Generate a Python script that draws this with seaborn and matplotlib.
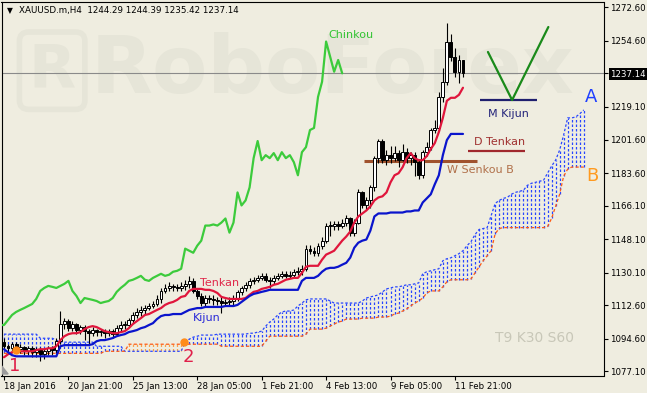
import numpy as np
import pandas as pd
import matplotlib
matplotlib.use("Agg")
import matplotlib.pyplot as plt
import seaborn as sns

# ---------------- data (XAUUSD H4) ----------------
first_open = 1093.0
close = [1090.6, 1089.5, 1091.7, 1089.0, 1090.1, 1087.9, 1089.5, 1087.4, 1089.0, 1086.3,
         1087.9, 1089.5, 1088.5, 1093.3, 1102.5, 1104.1, 1100.4, 1102.5, 1099.3, 1100.9,
         1098.7, 1097.6, 1099.3, 1098.2, 1098.7, 1097.6, 1098.7, 1097.1, 1100.4, 1102.0,
         1102.0, 1104.7, 1107.4, 1109.0, 1110.1, 1111.1, 1112.2, 1113.3, 1116.0, 1120.3,
         1121.9, 1123.0, 1122.5, 1121.9, 1123.0, 1124.1, 1125.7, 1120.3, 1117.6, 1113.8,
         1116.5, 1116.0, 1115.5, 1114.9, 1113.8, 1114.4, 1114.9, 1116.5, 1119.8, 1121.9,
         1123.6, 1125.7, 1126.3, 1127.3, 1128.4, 1126.3, 1125.7, 1127.3, 1128.4, 1129.5,
         1128.4, 1129.0, 1130.6, 1131.1, 1132.2, 1143.0, 1141.9, 1140.8, 1144.6, 1147.3,
         1155.4, 1155.4, 1156.0, 1155.4, 1157.0, 1159.2, 1151.6, 1157.0, 1173.2, 1166.2,
         1168.9, 1175.9, 1191.6, 1200.8, 1190.5, 1193.2, 1191.6, 1194.3, 1190.5, 1194.8,
         1191.6, 1193.2, 1189.4, 1182.4, 1194.8, 1197.5, 1206.7, 1207.8, 1224.5, 1232.6,
         1254.2, 1246.1, 1238.0, 1244.29, 1237.14]
high = [1095, 1092, 1093, 1093, 1092, 1091, 1091, 1091, 1090, 1090,
        1089, 1091, 1091, 1095, 1109.5, 1106, 1105, 1104, 1103, 1102,
        1102, 1100, 1101, 1100, 1100, 1100, 1100, 1100, 1102, 1104,
        1104, 1106, 1109, 1111, 1112, 1113, 1114, 1115, 1118, 1122,
        1124, 1125, 1124, 1124, 1125, 1126, 1128.4, 1127, 1122, 1119,
        1118, 1118, 1118, 1117, 1117, 1116, 1117, 1118, 1121, 1123,
        1125, 1127, 1128, 1129, 1130, 1130, 1128, 1129, 1130, 1131,
        1131, 1131, 1132, 1133, 1134, 1145, 1145, 1144, 1146, 1149,
        1157, 1158, 1158, 1158, 1159, 1161, 1160, 1159, 1175, 1174,
        1171, 1177, 1193, 1202, 1202, 1196, 1198, 1198, 1196, 1199,
        1197, 1195, 1195, 1191, 1196, 1200, 1208, 1212, 1227, 1240,
        1264, 1258, 1251, 1247, 1244.39]
low = [1089, 1087, 1088, 1087, 1087, 1086, 1086, 1085, 1085, 1082.5,
       1084, 1086, 1086, 1087, 1092, 1100, 1099, 1099, 1097, 1097,
       1094, 1092, 1096, 1096, 1096, 1095, 1096, 1095, 1096, 1099,
       1100, 1101, 1103, 1106, 1107, 1108, 1110, 1111, 1112, 1114,
       1119, 1120, 1120, 1120, 1120, 1121, 1122, 1119, 1116, 1112,
       1112, 1114, 1113, 1113, 1108.4, 1112, 1113, 1113, 1115, 1118,
       1120, 1122, 1124, 1125, 1126, 1125, 1122, 1124, 1126, 1127,
       1127, 1127, 1128, 1129, 1129, 1131, 1140, 1139, 1139, 1143,
       1146, 1150, 1153, 1153, 1154, 1155, 1150, 1150, 1156, 1165,
       1164, 1165, 1174, 1189, 1189, 1188, 1189, 1190, 1187, 1190,
       1189, 1188, 1182, 1180.5, 1181, 1193, 1196, 1205, 1206, 1222,
       1231, 1244, 1235, 1232, 1235.42]
tenkan = [1084.7, 1086.3, 1087.4, 1087.9, 1087.9, 1087.9, 1087.9, 1087.9, 1088.5, 1089.0,
          1089.0, 1089.5, 1089.5, 1090.6, 1093.9, 1096.0, 1097.1, 1097.6, 1097.6, 1098.2,
          1099.8, 1100.9, 1101.4, 1100.9, 1099.8, 1098.7, 1098.2, 1097.6, 1097.6, 1098.2,
          1098.7, 1100.3, 1102.5, 1104.1, 1105.7, 1107.4, 1107.9, 1109.0, 1110.1, 1111.1,
          1112.8, 1113.8, 1114.4, 1115.5, 1117.1, 1117.6, 1120.3, 1121.4, 1121.4, 1121.4,
          1120.9, 1120.9, 1120.3, 1119.2, 1117.1, 1116.5, 1116.0, 1116.0, 1116.0, 1116.0,
          1116.5, 1118.2, 1119.8, 1120.3, 1121.4, 1121.9, 1122.5, 1123.6, 1124.1, 1125.2,
          1126.3, 1126.8, 1127.3, 1127.3, 1130.0, 1133.3, 1133.8, 1133.8, 1133.8, 1137.1,
          1139.8, 1140.8, 1141.9, 1144.6, 1147.3, 1149.5, 1152.2, 1157.0, 1160.3, 1161.9,
          1163.5, 1165.7, 1168.9, 1170.5, 1171.1, 1173.2, 1178.6, 1182.4, 1183.5, 1186.7,
          1191.6, 1194.3, 1191.6, 1190.5, 1190.5, 1192.7, 1196.5, 1199.7, 1205.6, 1213.2,
          1222.4, 1224.0, 1224.0, 1225.6, 1229.4]
kijun = [1089.0, 1087.4, 1085.8, 1085.2, 1085.2, 1085.2, 1085.2, 1085.2, 1085.2, 1085.2,
         1085.2, 1085.2, 1085.2, 1085.2, 1090.6, 1091.2, 1091.2, 1091.2, 1091.2, 1091.2,
         1091.2, 1091.2, 1091.7, 1093.3, 1093.9, 1093.9, 1094.4, 1095.0, 1096.0, 1096.6,
         1097.1, 1098.2, 1098.7, 1099.3, 1100.3, 1100.9, 1102.0, 1103.0, 1105.2, 1106.8,
         1107.4, 1107.4, 1107.9, 1107.9, 1107.9, 1109.0, 1110.1, 1110.6, 1111.1, 1111.1,
         1111.7, 1111.7, 1111.7, 1111.7, 1111.7, 1112.2, 1112.2, 1112.2, 1112.8, 1114.4,
         1116.0, 1117.6, 1118.7, 1119.2, 1119.8, 1120.3, 1120.9, 1120.9, 1120.9, 1120.9,
         1120.9, 1120.9, 1120.9, 1120.9, 1125.7, 1127.3, 1127.3, 1127.3, 1128.4, 1130.6,
         1132.2, 1132.7, 1132.7, 1133.3, 1134.4, 1135.4, 1138.2, 1143.5, 1146.2, 1147.3,
         1147.9, 1152.7, 1160.3, 1161.9, 1161.9, 1161.9, 1162.4, 1162.4, 1162.4, 1162.4,
         1163.0, 1163.0, 1163.5, 1163.5, 1167.8, 1170.0, 1172.2, 1177.6, 1182.4, 1193.2,
         1201.3, 1204.6, 1204.6, 1204.6, 1204.6]
senkou_a = [1097.1, 1097.1, 1097.1, 1097.1, 1097.1, 1097.1, 1097.1, 1097.1, 1097.1, 1094.9,
            1094.9, 1094.9, 1094.9, 1093.9, 1092.8, 1092.8, 1092.8, 1092.8, 1092.8, 1092.8,
            1092.8, 1092.8, 1092.8, 1090.6, 1090.6, 1090.6, 1090.6, 1090.6, 1090.6, 1090.6,
            1087.9, 1087.9, 1087.9, 1087.9, 1087.9, 1087.9, 1087.9, 1087.9, 1087.9, 1087.9,
            1087.9, 1087.9, 1087.9, 1087.9, 1087.9, 1092.8, 1094.4, 1095.5, 1096.0, 1096.6,
            1096.6, 1096.6, 1096.6, 1097.1, 1097.1, 1097.1, 1097.1, 1097.1, 1097.1, 1097.1,
            1097.1, 1097.6, 1097.6, 1098.2, 1098.7, 1101.4, 1103.6, 1105.2, 1107.4, 1109.0,
            1109.5, 1109.5, 1110.1, 1112.2, 1113.8, 1115.5, 1116.0, 1116.0, 1116.0, 1116.0,
            1116.0, 1114.9, 1113.8, 1113.8, 1113.8, 1113.8, 1113.8, 1113.8, 1113.8, 1114.9,
            1116.5, 1117.1, 1117.6, 1118.2, 1119.8, 1121.4, 1121.9, 1122.5, 1122.5, 1123.0,
            1123.6, 1123.6, 1124.1, 1124.6, 1129.5, 1130.6, 1131.1, 1131.7, 1132.2, 1136.5,
            1137.6, 1138.1, 1139.2, 1140.3, 1141.9, 1144.6, 1146.8, 1150.6, 1153.3, 1153.8,
            1154.3, 1160.8, 1167.3, 1168.9, 1170.0, 1170.5, 1172.2, 1173.2, 1173.8, 1174.3,
            1177.0, 1178.1, 1178.6, 1179.2, 1179.7, 1183.5, 1187.3, 1190.5, 1195.9, 1204.0,
            1213.2, 1213.2, 1213.7, 1215.4, 1217.5]
senkou_b = [1086.8, 1086.8, 1086.8, 1086.8, 1086.8, 1086.8, 1086.8, 1086.8, 1086.8, 1086.8,
            1086.8, 1086.8, 1086.8, 1086.8, 1086.8, 1086.8, 1086.8, 1086.8, 1086.8, 1086.8,
            1086.8, 1086.8, 1086.8, 1086.8, 1086.8, 1087.9, 1087.9, 1087.9, 1087.9, 1087.9,
            1087.9, 1091.7, 1091.7, 1091.7, 1091.7, 1091.7, 1091.7, 1091.7, 1091.7, 1091.7,
            1091.7, 1091.7, 1091.7, 1091.7, 1091.7, 1091.7, 1091.7, 1091.7, 1091.7, 1091.7,
            1091.7, 1091.7, 1091.7, 1091.7, 1090.6, 1090.6, 1090.6, 1090.6, 1090.6, 1090.6,
            1090.6, 1090.6, 1090.6, 1090.6, 1090.6, 1093.3, 1096.0, 1096.0, 1096.0, 1096.0,
            1096.0, 1096.0, 1096.0, 1096.0, 1096.0, 1097.1, 1099.8, 1099.8, 1099.8, 1099.8,
            1100.3, 1101.4, 1102.5, 1103.6, 1104.1, 1105.2, 1105.2, 1105.2, 1105.2, 1105.7,
            1105.7, 1105.7, 1105.7, 1106.3, 1106.3, 1106.3, 1106.8, 1107.9, 1108.4, 1109.5,
            1110.6, 1112.2, 1113.8, 1114.9, 1116.5, 1119.2, 1120.3, 1120.3, 1120.3, 1122.5,
            1125.2, 1126.3, 1126.3, 1126.3, 1126.3, 1126.3, 1126.8, 1130.0, 1133.3, 1136.5,
            1139.2, 1141.9, 1151.1, 1153.8, 1154.3, 1154.3, 1154.3, 1154.3, 1154.3, 1154.3,
            1154.3, 1154.3, 1154.3, 1154.3, 1154.3, 1154.9, 1159.2, 1165.7, 1172.2, 1181.9,
            1185.7, 1186.8, 1186.8, 1186.8, 1186.8]
kijun_period = 30
last_price = 1237.14
title_text = "XAUUSD.m,H4  1244.29 1244.39 1235.42 1237.14"
y_ticks = [1272.60, 1254.60, 1237.14, 1219.10, 1201.60, 1183.60, 1166.10,
           1148.10, 1130.10, 1112.60, 1094.60, 1077.10]
x_tick_bars = [0, 16, 32, 48, 64, 80, 96, 112]
x_tick_labels = ["18 Jan 2016", "20 Jan 21:00", "25 Jan 13:00", "28 Jan 05:00",
                 "1 Feb 21:00", "4 Feb 13:00", "9 Feb 05:00", "11 Feb 21:00"]
# higher-timeframe levels drawn by the analyst: (label, price, start bar, end bar)
level_lines = [("W Senkou B", 1190.0, 89.4, 117.6, '#A0522D', 2.2),
               ("D Tenkan", 1195.3, 115.3, 129.5, '#A0282D', 1.6),
               ("M Kijun", 1222.8, 118.3, 132.4, '#1F1F6E', 1.6)]
v_mark_bars = [120.2, 126.2, 135.2]
v_mark_prices = [1248.6, 1222.8, 1262.0]
signal_bars = [3.0, 44.7]
signal_prices = [1088.4, 1092.7]

# ---------------- style ----------------
sns.set_theme(style="white")
plt.rcParams['font.family'] = ['DejaVu Sans']
BG = '#EFEDE0'
WM = '#E6E5D8'
BLUE_CLOUD = '#2846FF'
ORANGE_CLOUD = '#F7A04A'

fig = plt.figure(figsize=(6.47, 3.93), dpi=100, facecolor=BG)
ax = fig.add_axes([1.5 / 647, 1 - 375.5 / 393, 602 / 647, 374 / 393])
ax.set_facecolor(BG)
ax.set_xlim(-0.62, 148.9)
ax.set_ylim(1074.9, 1275.7)

bars = np.arange(len(close))
closes = np.array(close)
opens = np.array([first_open] + close[:-1])

# watermark
ax.text(0.148, 0.815, "RoboForex", transform=ax.transAxes, fontsize=58,
        fontweight='bold', color=WM, va='center', ha='left', zorder=0)
ax.text(0.045, 0.815, "R", transform=ax.transAxes, fontsize=44, fontweight='bold',
        color=WM, va='center', ha='left', zorder=0,
        bbox=dict(boxstyle='round,pad=0.15', fc='none', ec=WM, lw=4))

# cloud
k = np.arange(len(senkou_a))
A = np.array(senkou_a)
Bv = np.array(senkou_b)
up = A >= Bv
ax.vlines(k[up], Bv[up], A[up], colors=BLUE_CLOUD, linestyles=(0, (2.0, 1.6)), lw=0.9, zorder=1)
ax.vlines(k[~up], A[~up], Bv[~up], colors=ORANGE_CLOUD, linestyles=(0, (2.0, 1.6)), lw=0.9, zorder=1)
ax.plot(k, A, color=BLUE_CLOUD, ls=(0, (2.0, 1.6)), lw=0.9, zorder=1.2)
ax.plot(k, Bv, color='#FF5A14', ls=(0, (2.5, 1.8)), lw=0.9, zorder=1.2)

# last price line
ax.axhline(last_price, color='#8A8A8A', lw=0.8, zorder=1.5)

# level lines
for name, price, b0, b1, col, lw in level_lines:
    ax.hlines(price, b0, b1, colors=col, lw=lw, zorder=2)

# candles
ax.vlines(bars, low, high, colors='black', lw=0.8, zorder=3)
body_bottom = np.minimum(opens, closes)
body_h = np.maximum(np.abs(closes - opens), 0.35)
body_col = np.where(closes >= opens, 'white', 'black')
ax.bar(bars, body_h, bottom=body_bottom, width=0.72, color=body_col,
       edgecolor='black', lw=0.7, zorder=3.5)

# Ichimoku lines
sns.lineplot(x=bars, y=tenkan, color='#E0163C', lw=1.6, ax=ax, zorder=5, legend=False)
sns.lineplot(x=bars, y=kijun, color='#0A14CC', lw=1.6, ax=ax, zorder=5, legend=False)
sns.lineplot(x=bars - kijun_period, y=close, color='#3CCB3C', lw=1.6, ax=ax, zorder=5, legend=False)

# V mark
ax.plot(v_mark_bars, v_mark_prices, color='#1A8A1A', lw=1.6, zorder=5)

# signal points
ax.plot(signal_bars, signal_prices, 'o', color='#FF8C1A', ms=5, zorder=6)

# texts
texts = [("Chinkou", 80.5, 1257.6, '#33C433', 8, 'left'),
         ("Tenkan", 48.7, 1124.4, '#E0284A', 8, 'left'),
         ("Kijun", 47.0, 1105.6, '#2828D8', 8, 'left'),
         ("M Kijun", 120.2, 1215.4, '#23237A', 8, 'left'),
         ("D Tenkan", 116.8, 1200.5, '#A03030', 8, 'left'),
         ("W Senkou B", 110.0, 1185.0, '#B0704A', 8, 'left'),
         ("T9 K30 S60", 122.0, 1094.8, '#C8C7B8', 10, 'left'),
         ("A", 145.8, 1224.4, '#1F3FFF', 13, 'center'),
         ("B", 146.1, 1181.9, '#FF9A1F', 13, 'center'),
         ("1", 2.6, 1080.0, '#E0204A', 13, 'center'),
         ("2", 45.8, 1084.8, '#E0204A', 13, 'center')]
for t, xb, pr, col, fs, ha in texts:
    ax.text(xb, pr, t, color=col, fontsize=fs, ha=ha, va='center', zorder=7)

# title
ax.text(0.0085, 0.977, "\u25BC", transform=ax.transAxes, fontsize=5.5, va='center', ha='left', color='black')
ax.text(0.029, 0.977, title_text, transform=ax.transAxes, fontsize=6.3, va='center', ha='left', color='black')

# shift marker
ax.fill([0.0, 0.011, 0.0], [0.004, 0.004, 0.026], transform=ax.transAxes, color='#9A9A9A', zorder=8)

# axes
for s in ax.spines.values():
    s.set_color('black')
    s.set_linewidth(0.8)
ax.yaxis.tick_right()
ax.set_yticks(y_ticks)
ax.set_yticklabels([f"{v:.2f}" for v in y_ticks])
ax.set_xticks(x_tick_bars)
ax.set_xticklabels(x_tick_labels, ha='left')
ax.tick_params(axis='y', which='both', right=True, left=False, direction='out', length=3,
               width=0.8, pad=2, labelsize=6.2, colors='black')
ax.tick_params(axis='x', which='both', bottom=True, direction='out', length=3,
               width=0.8, pad=1.5, labelsize=6.2, colors='black')
for lbl in ax.get_yticklabels():
    if lbl.get_text() == f"{last_price:.2f}":
        lbl.set_color('white')
        lbl.set_bbox(dict(facecolor='black', edgecolor='none', pad=1.2))
ax.grid(False)
ax.set_xlabel("")
ax.set_ylabel("")

fig.savefig("out.png", dpi=100, facecolor=BG)
